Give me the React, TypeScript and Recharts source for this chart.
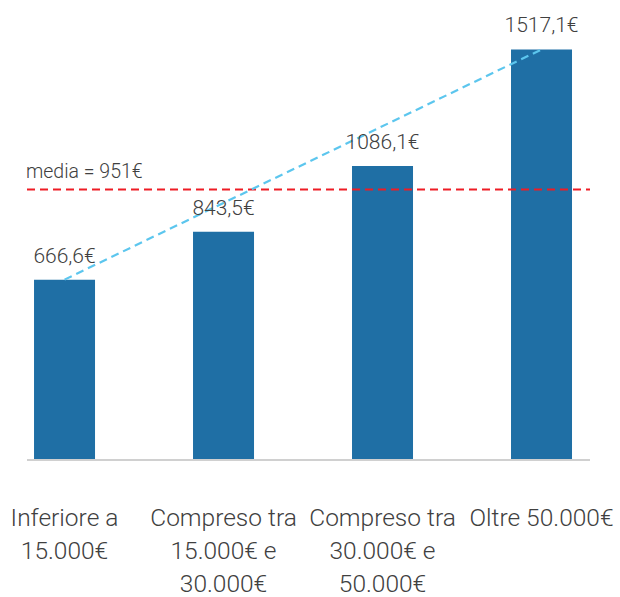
import { ComposedChart, Bar, Line, XAxis, YAxis, ReferenceLine, LabelList } from "recharts";

const categories = [
    ["Inferiore a", "15.000€"],
    ["Compreso tra", "15.000€ e", "30.000€"],
    ["Compreso tra", "30.000€ e", "50.000€"],
    ["Oltre 50.000€"],
];
const redditi = [666.6, 843.5, 1086.1, 1517.1];
// trend line only joins the first and last bar
const trend = [666.6, null, null, 1517.1];
const mediaLabel = "media = 951€";
const mediaLine = 1000;

const data = categories.map((c, i) => ({ idx: i, valore: redditi[i], trend: trend[i] }));

const FONT = "Roboto, 'Noto Sans', sans-serif";
const TEXT = "#404040";

const fmt = (v: number) => v.toFixed(1).replace(".", ",") + "€";

function CatTick(props: any) {
    const { x, y, payload } = props;
    const lines = categories[payload.value] || [];
    return (
        <text x={x} y={y + 58} textAnchor="middle" fill={TEXT} fontSize={24.5} fontWeight={300} fontFamily={FONT}>
            {lines.map((l, i) => (
                <tspan key={i} x={x} dy={i === 0 ? 0 : 33}>
                    {l}
                </tspan>
            ))}
        </text>
    );
}

function MediaLabel(props: any) {
    const { viewBox } = props;
    return (
        <text x={viewBox.x - 1} y={viewBox.y - 11} fill={TEXT} fontSize={19.5} fontWeight={300} fontFamily={FONT}>
            {mediaLabel}
        </text>
    );
}

export default function App() {
    return (
        <div style={{ position: "absolute", left: 0, top: 0 }}>
            <ComposedChart width={620} height={597} data={data} margin={{ top: 0, right: 30, bottom: 0, left: 27 }}>
                <XAxis
                    dataKey="idx"
                    type="number"
                    domain={[-0.236, 3.305]}
                    ticks={[0, 1, 2, 3]}
                    tick={<CatTick />}
                    tickLine={false}
                    axisLine={{ stroke: "#d0d0d0", strokeWidth: 2 }}
                    height={137}
                    interval={0}
                />
                <YAxis hide domain={[0, 1700]} />
                <Bar dataKey="valore" fill="#1f6fa5" barSize={61} isAnimationActive={false}>
                    <LabelList
                        dataKey="valore"
                        position="top"
                        offset={17}
                        formatter={(v: any) => fmt(Number(v))}
                        fill={TEXT}
                        fontSize={21}
                        fontWeight={300}
                        fontFamily={FONT}
                    />
                </Bar>
                <ReferenceLine
                    y={mediaLine}
                    stroke="#ee1c25"
                    strokeWidth={2}
                    strokeDasharray="8 5"
                    label={<MediaLabel />}
                />
                <Line
                    dataKey="trend"
                    stroke="#5cc6ee"
                    strokeWidth={2.2}
                    strokeDasharray="8 5"
                    dot={false}
                    connectNulls
                    isAnimationActive={false}
                />
            </ComposedChart>
        </div>
    );
}
